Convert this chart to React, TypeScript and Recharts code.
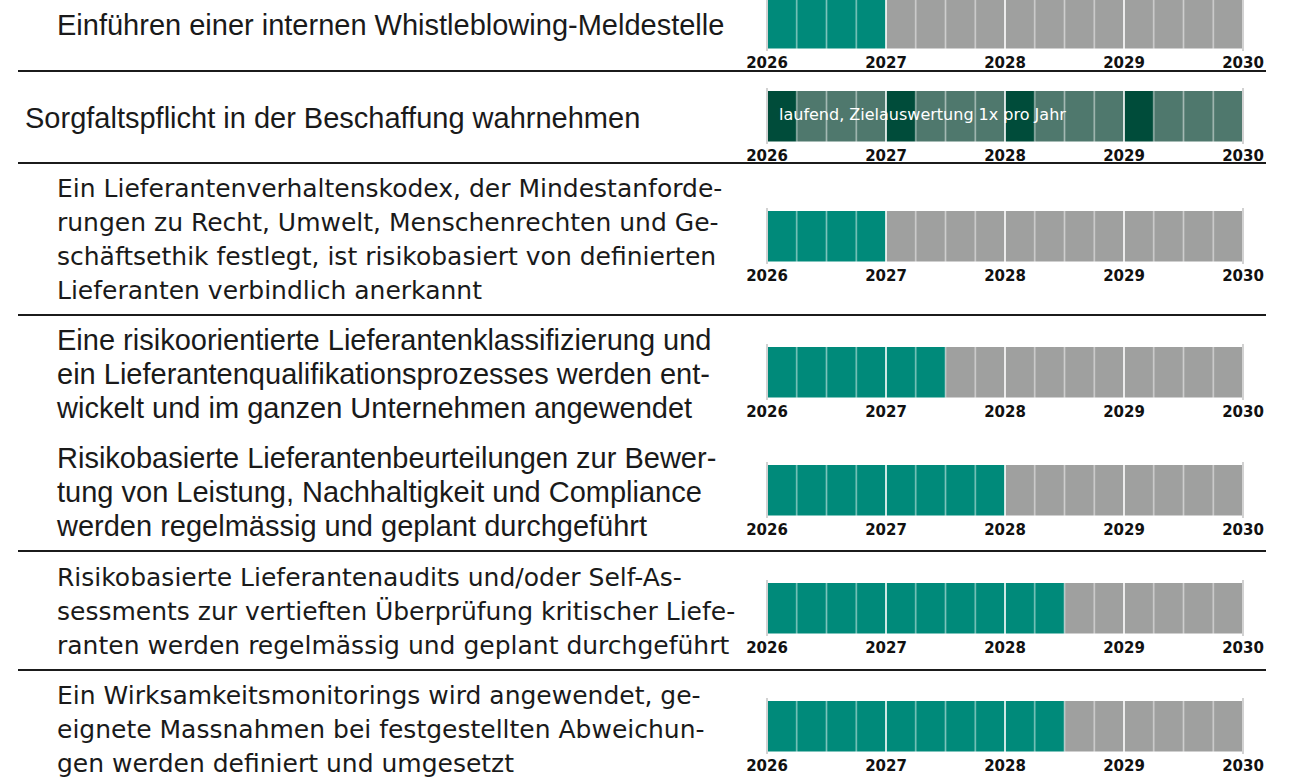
import React from "react";
import { BarChart, Bar, XAxis, YAxis, ReferenceLine } from "recharts";

// timeline: years on the axis, split into quarters
const years = [2026, 2027, 2028, 2029, 2030];
const quarterNames = ["Q1", "Q2", "Q3", "Q4"];

// measures (text lines as in the source document)
const measures: string[][] = [
  ["Einführen einer internen Whistleblowing-Meldestelle"],
  ["Sorgfaltspflicht in der Beschaffung wahrnehmen"],
  [
    "Ein Lieferantenverhaltenskodex, der Mindestanforde-",
    "rungen zu Recht, Umwelt, Menschenrechten und Ge-",
    "schäftsethik festlegt, ist risikobasiert von definierten",
    "Lieferanten verbindlich anerkannt",
  ],
  [
    "Eine risikoorientierte Lieferantenklassifizierung und",
    "ein Lieferantenqualifikationsprozesses werden ent-",
    "wickelt und im ganzen Unternehmen angewendet",
  ],
  [
    "Risikobasierte Lieferantenbeurteilungen zur Bewer-",
    "tung von Leistung, Nachhaltigkeit und Compliance",
    "werden regelmässig und geplant durchgeführt",
  ],
  [
    "Risikobasierte Lieferantenaudits und/oder Self-As-",
    "sessments zur vertieften Überprüfung kritischer Liefe-",
    "ranten werden regelmässig und geplant durchgeführt",
  ],
  [
    "Ein Wirksamkeitsmonitorings wird angewendet, ge-",
    "eignete Massnahmen bei festgestellten Abweichun-",
    "gen werden definiert und umgesetzt",
  ],
];

// implemented until (year); null = ongoing task
const doneUntil: (number | null)[] = [2027, null, 2027, 2027.5, 2028, 2028.5, 2028.5];

// ongoing task: quarters with the yearly target review
const reviewQuarters = ["2026-Q1", "2027-Q1", "2028-Q1", "2029-Q1"];
const ongoingNote = "laufend, Zielauswertung 1x pro Jahr";

// ---- layout / styles ----
const COLORS = {
  done: "#008a7a",
  open: "#9fa09f",
  ongoing: "#4f786d",
  review: "#004c3a",
  text: "#1a1a1a",
};
const rowBarTop = [-5, 88, 208, 344, 462, 580, 698];
const rowIndent = [57, 25, 57, 57, 57, 57, 57];
const rowFont = ["A", "A", "B", "A", "A", "B", "B"];
const FONTS: Record<string, { family: string; size: number }> = {
  A: { family: "'Liberation Sans', Arial, sans-serif", size: 29 },
  B: { family: "'DejaVu Sans', sans-serif", size: 25 },
};
const dividerY = [71, 163, 315, 551, 670];
const LINE_H = 34.3;
const BAR_H = 56;
const TOP_PAD = 60;
const BOTTOM_PAD = 40;
const AXIS_H = 26;
const CHART_W = 1300;
const AXIS_LEFT = 767;
const AXIS_RIGHT = 1243;

const slots = years.slice(0, -1).flatMap((y) => quarterNames.map((q) => `${y}-${q}`));
const slotStart = (i: number) => years[0] + i / quarterNames.length;

function slotColor(row: number, i: number) {
  const end = doneUntil[row];
  if (end === null) return reviewQuarters.includes(slots[i]) ? COLORS.review : COLORS.ongoing;
  return slotStart(i) < end ? COLORS.done : COLORS.open;
}

const makeLabel = (row: number) => (props: any) => {
  const lines = measures[row];
  const n = lines.length;
  const f = FONTS[rowFont[row]];
  return (
    <g>
      {lines.map((line, i) => (
        <text
          key={i}
          x={rowIndent[row]}
          y={props.y + 12 + (i - (n - 1) / 2) * LINE_H}
          fontFamily={f.family}
          fontSize={f.size}
          fill={COLORS.text}
        >
          {line}
        </text>
      ))}
    </g>
  );
};

function MeasureRow({ row }: { row: number }) {
  const data = [{ name: `M${row + 1}`, ...Object.fromEntries(slots.map((s) => [s, 1])) }];
  const boundaries = Array.from({ length: slots.length + 1 }, (_, i) => i);
  return (
    <div style={{ position: "absolute", left: 0, top: rowBarTop[row] - TOP_PAD }}>
      <BarChart
        width={CHART_W}
        height={TOP_PAD + BAR_H + AXIS_H + BOTTOM_PAD}
        data={data}
        layout="vertical"
        margin={{ top: TOP_PAD, right: CHART_W - AXIS_RIGHT, bottom: BOTTOM_PAD, left: 0 }}
        barCategoryGap={0}
      >
        <XAxis
          type="number"
          domain={[0, slots.length]}
          ticks={years.map((_, i) => i * quarterNames.length)}
          tickFormatter={(v: number) => String(years[v / quarterNames.length])}
          interval={0}
          axisLine={false}
          tickLine={false}
          tickSize={4}
          tickMargin={2}
          height={AXIS_H}
          tick={{ fontFamily: "'DejaVu Sans', sans-serif", fontWeight: "bold", fontSize: 15, fill: "#111" }}
        />
        <YAxis
          type="category"
          dataKey="name"
          width={AXIS_LEFT}
          axisLine={false}
          tickLine={false}
          tick={makeLabel(row)}
        />
        {slots.map((s, i) => (
          <Bar key={s} dataKey={s} stackId="t" barSize={BAR_H} fill={slotColor(row, i)} isAnimationActive={false} />
        ))}
        {boundaries.map((b) => {
          const edge = b === 0 || b === slots.length;
          const year = b % quarterNames.length === 0;
          return (
            <ReferenceLine
              key={b}
              x={b}
              stroke={edge ? "#d2d2d2" : year ? "rgba(255,255,255,0.8)" : "rgba(255,255,255,0.32)"}
              strokeWidth={2}
              label={
                b === 0 && doneUntil[row] === null
                  ? {
                      value: ongoingNote,
                      position: "insideLeft",
                      offset: 12,
                      dy: -2,
                      fill: "#ffffff",
                      fontSize: 16,
                      fontFamily: "'DejaVu Sans', sans-serif",
                    }
                  : undefined
              }
            />
          );
        })}
      </BarChart>
    </div>
  );
}

export default function App() {
  return (
    <div
      style={{
        position: "absolute",
        left: 0,
        top: 0,
        width: 1300,
        height: 780,
        overflow: "hidden",
        background: "#fff",
      }}
    >
      {measures.map((_, r) => (
        <MeasureRow key={r} row={r} />
      ))}
      {dividerY.map((y) => (
        <div
          key={y}
          style={{ position: "absolute", left: 18, top: y - 1, width: 1248, height: 2, background: "#1b1b1b" }}
        />
      ))}
    </div>
  );
}
